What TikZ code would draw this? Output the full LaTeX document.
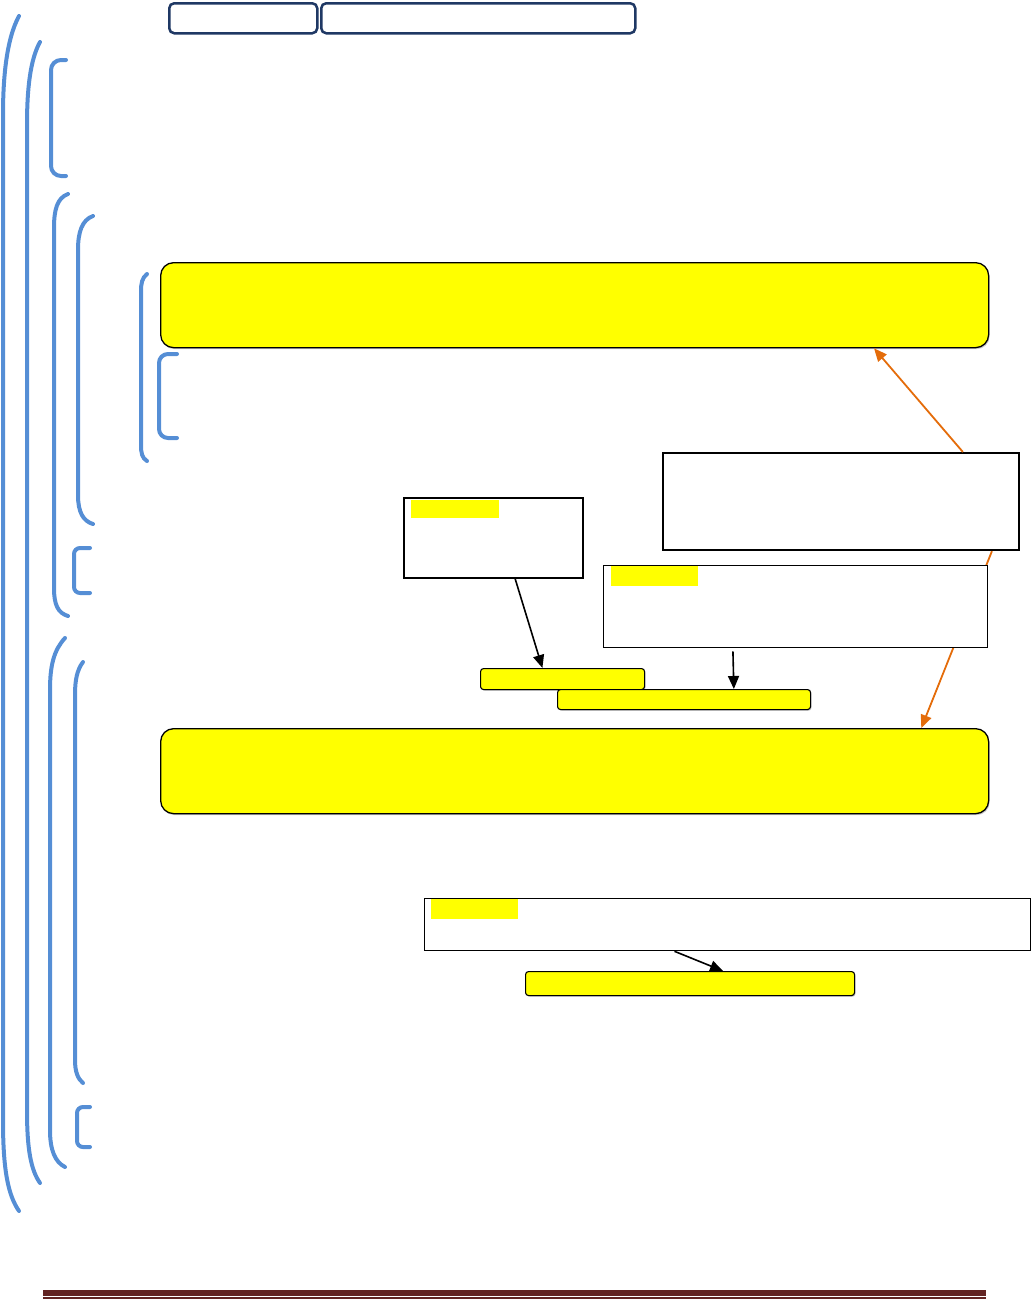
\documentclass[tikz,border=0pt]{standalone}
\usetikzlibrary{arrows.meta,calc,shadows}
\definecolor{brk}{RGB}{85,142,213}
\definecolor{navy}{RGB}{31,56,100}
\definecolor{org}{RGB}{228,108,10}
\definecolor{foot}{RGB}{98,36,35}
\definecolor{ylw}{RGB}{255,255,0}
\begin{document}
\begin{tikzpicture}[x=1pt,y=-1pt,
 brace/.style={draw=brk,line width=4pt,line cap=round},
 tab/.style={draw=navy,line width=2.5pt,rounded corners=5pt,anchor=north west,inner sep=0pt},
 ybig/.style={draw=black,line width=1.3pt,fill=ylw,rounded corners=13pt,anchor=north west,inner sep=0pt,
   drop shadow={shadow xshift=1pt,shadow yshift=-1.5pt,fill=black!40,opacity=0.5}},
 ysmall/.style={draw=black,line width=1.1pt,fill=ylw,rounded corners=3pt,anchor=north west,inner sep=0pt,
   drop shadow={shadow xshift=1pt,shadow yshift=-1.2pt,fill=black!40,opacity=0.5}},
 wbox/.style={draw=black,fill=white,anchor=north west,inner sep=0pt},
 hl/.style={fill=ylw,anchor=north west,inner sep=0pt},
 arr/.style={-{Triangle[length=13pt,width=11pt]},line width=1.6pt},
 oarr/.style={-{Triangle[length=13pt,width=11pt]},line width=1.8pt,draw=org,fill=org}]
\useasboundingbox (0,0) rectangle (1032,1299);

% brackets
\draw[brace] (19,16) .. controls (6,40) and (3,80) .. (3,115) -- (3,1120) .. controls (3,1170) and (8,1195) .. (19,1211);
\draw[brace] (40,42) .. controls (30,60) and (27,90) .. (27,125) -- (27,1110) .. controls (27,1150) and (31,1170) .. (40,1183);
\draw[brace,rounded corners=10pt] (66,60) -- (51,60) -- (51,176) -- (66,176);
\draw[brace] (68,194) .. controls (57,198) and (54,210) .. (54,228) -- (54,588) .. controls (54,605) and (58,613) .. (68,616);
\draw[brace] (93,216) .. controls (82,220) and (78,232) .. (78,250) -- (78,495) .. controls (78,512) and (83,521) .. (93,524);
\draw[brace] (147,274) .. controls (142,278) and (141,283) .. (141,292) -- (141,445) .. controls (141,453) and (142,458) .. (147,461);
\draw[brace,rounded corners=9pt] (177,354) -- (159,354) -- (159,438) -- (177,438);
\draw[brace,rounded corners=6pt] (90,548) -- (74,548) -- (74,593) -- (90,593);
\draw[brace] (65,638) .. controls (54,650) and (50,665) .. (50,690) -- (50,1130) .. controls (50,1150) and (55,1162) .. (65,1167);
\draw[brace] (83,662) .. controls (77,670) and (75,680) .. (75,695) -- (75,1060) .. controls (75,1072) and (78,1079) .. (83,1083);
\draw[brace,rounded corners=6pt] (90,1107) -- (77,1107) -- (77,1147) -- (90,1147);

% top tabs
\node[tab,minimum width=148pt,minimum height=30pt] (tab1) at (168,2) {};
\node[tab,minimum width=314pt,minimum height=30pt] (tab2) at (320,2) {};

% yellow boxes
\node[ybig,minimum width=828pt,minimum height=85pt] (a) at (160,262) {};
\node[ybig,minimum width=828pt,minimum height=85pt] (b) at (160,728) {};
\node[ysmall,minimum width=164pt,minimum height=21pt] (c) at (480,668) {};
\node[ysmall,minimum width=253pt,minimum height=20pt] (d) at (557,689) {};
\node[ysmall,minimum width=329pt,minimum height=24pt] (e) at (525,971) {};

% white boxes
\node[wbox,line width=2pt,minimum width=179pt,minimum height=80pt] (w1) at (403,497) {};
\node[hl,minimum width=88pt,minimum height=18pt] (h1) at (411,500) {};
\node[wbox,line width=2.2pt,minimum width=356pt,minimum height=97pt] (w2) at (662,452) {};
\node[wbox,line width=1.3pt,minimum width=606pt,minimum height=52pt] (w4) at (424,898) {};
\node[hl,minimum width=87pt,minimum height=20pt] (h4) at (431,899) {};

% orange connectors
\draw[oarr] ($(w2.north west)!0.84!(w2.north east)$) -- ($(a.south west)!0.861!(a.south east)$);
\draw[oarr] ($(w2.south west)!0.921!(w2.south east)$) -- ($(b.north west)!0.918!(b.north east)$);

% box drawn over the orange line
\node[wbox,line width=1.3pt,minimum width=384pt,minimum height=82pt] (w3) at (603,565) {};
\node[hl,minimum width=87pt,minimum height=20pt] (h3) at (611,566) {};

% black connectors
\draw[arr] ($(w1.south west)!0.62!(w1.south east)$) -- ($(c.north west)!0.378!(c.north east)$);
\draw[arr,shorten <=3pt] ($(w3.south west)!0.337!(w3.south east)$) -- ($(d.north west)!0.696!(d.north east)$);
\draw[arr] ($(w4.south west)!0.4125!(w4.south east)$) -- ($(e.north west)!0.60!(e.north east)$);

% footer rule
\fill[foot] (43,1290) rectangle (986,1296);
\fill[foot] (43,1297.3) rectangle (986,1299);
\end{tikzpicture}
\end{document}
